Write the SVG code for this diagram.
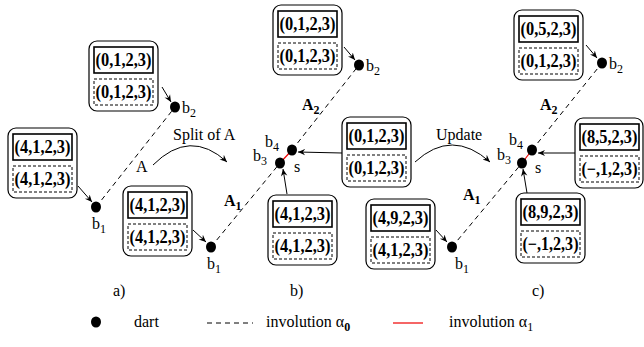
<svg xmlns="http://www.w3.org/2000/svg" width="644" height="347" viewBox="0 0 644 347">
<defs>
<style>
.ob{fill:#fff;stroke:#000;stroke-width:1.2}
.sb{fill:none;stroke:#000;stroke-width:1.6}
.db{fill:none;stroke:#000;stroke-width:1;stroke-dasharray:3,2}
.bt{font-family:"Liberation Serif",serif;font-weight:bold;font-size:18px;text-anchor:middle}
.lb{font-family:"Liberation Serif",serif;font-size:16px}
.sub{font-size:12px}
.dl{fill:none;stroke:#000;stroke-width:1;stroke-dasharray:5,4}
.ar{fill:none;stroke:#000;stroke-width:1;marker-end:url(#ah)}
.dot{fill:#000}
</style>
<marker id="ah" viewBox="0 0 10 10" refX="9" refY="5" markerWidth="8" markerHeight="8" orient="auto" markerUnits="userSpaceOnUse">
<path d="M0,1 L9,5 L0,9 L3,5 Z" fill="#000"/>
</marker>
</defs>

<g id="connectors">
<line class="dl" x1="96" y1="207" x2="175" y2="107"/>
<line class="dl" x1="211" y1="247" x2="280" y2="163"/>
<line class="dl" x1="292" y1="150" x2="359" y2="65"/>
<line class="dl" x1="452" y1="247" x2="522" y2="163"/>
<line class="dl" x1="532" y1="150" x2="602" y2="63"/>
<line x1="280" y1="163" x2="292" y2="150" stroke="#e00" stroke-width="1.2"/>
<line x1="522" y1="163" x2="532" y2="150" stroke="#e00" stroke-width="1.2"/>
<path class="ar" d="M162,87 L171,102"/>
<path class="ar" d="M78,186 L92,202"/>
<path class="ar" d="M193,230 L206,242"/>
<path class="ar" d="M344,47 L355,60"/>
<path class="ar" d="M342,153 L298,152"/>
<path class="ar" d="M287,194 L283,169"/>
<path class="ar" d="M586,45 L597,58"/>
<path class="ar" d="M575,153 L538,153"/>
<path class="ar" d="M527,193 L523,169"/>
<path class="ar" d="M436,230 L447,242"/>
<path class="ar" d="M153,165 Q190,128 227,162"/>
<path class="ar" d="M415,162 Q452,128 490,162"/>
</g>

<g id="box-a-top">
<rect class="ob" x="89" y="41" width="69" height="70" rx="8"/>
<rect class="sb" x="94" y="47" width="59" height="26"/>
<rect class="db" x="94" y="79" width="59" height="26"/>
<text class="bt" x="123.5" y="66" textLength="56" lengthAdjust="spacingAndGlyphs">(0,1,2,3)</text>
<text class="bt" x="123.5" y="98" textLength="56" lengthAdjust="spacingAndGlyphs">(0,1,2,3)</text>
</g>
<g id="box-a-left">
<rect class="ob" x="8" y="128" width="69" height="70" rx="8"/>
<rect class="sb" x="13" y="134" width="59" height="26"/>
<rect class="db" x="13" y="166" width="59" height="26"/>
<text class="bt" x="42.5" y="153" textLength="56" lengthAdjust="spacingAndGlyphs">(4,1,2,3)</text>
<text class="bt" x="42.5" y="185" textLength="56" lengthAdjust="spacingAndGlyphs">(4,1,2,3)</text>
</g>
<g id="box-b-left">
<rect class="ob" x="123" y="186" width="69" height="70" rx="8"/>
<rect class="sb" x="128" y="192" width="59" height="26"/>
<rect class="db" x="128" y="224" width="59" height="26"/>
<text class="bt" x="157.5" y="211" textLength="56" lengthAdjust="spacingAndGlyphs">(4,1,2,3)</text>
<text class="bt" x="157.5" y="243" textLength="56" lengthAdjust="spacingAndGlyphs">(4,1,2,3)</text>
</g>
<g id="box-b-top">
<rect class="ob" x="273" y="5" width="69" height="70" rx="8"/>
<rect class="sb" x="278" y="11" width="59" height="26"/>
<rect class="db" x="278" y="43" width="59" height="26"/>
<text class="bt" x="307.5" y="30" textLength="56" lengthAdjust="spacingAndGlyphs">(0,1,2,3)</text>
<text class="bt" x="307.5" y="62" textLength="56" lengthAdjust="spacingAndGlyphs">(0,1,2,3)</text>
</g>
<g id="box-b-right">
<rect class="ob" x="342" y="117" width="69" height="70" rx="8"/>
<rect class="sb" x="347" y="123" width="59" height="26"/>
<rect class="db" x="347" y="155" width="59" height="26"/>
<text class="bt" x="376.5" y="142" textLength="56" lengthAdjust="spacingAndGlyphs">(0,1,2,3)</text>
<text class="bt" x="376.5" y="174" textLength="56" lengthAdjust="spacingAndGlyphs">(0,1,2,3)</text>
</g>
<g id="box-b-bottom">
<rect class="ob" x="268" y="195" width="69" height="70" rx="8"/>
<rect class="sb" x="273" y="201" width="59" height="26"/>
<rect class="db" x="273" y="233" width="59" height="26"/>
<text class="bt" x="302.5" y="220" textLength="56" lengthAdjust="spacingAndGlyphs">(4,1,2,3)</text>
<text class="bt" x="302.5" y="252" textLength="56" lengthAdjust="spacingAndGlyphs">(4,1,2,3)</text>
</g>
<g id="box-c-left">
<rect class="ob" x="366" y="199" width="69" height="70" rx="8"/>
<rect class="sb" x="371" y="205" width="59" height="26"/>
<rect class="db" x="371" y="237" width="59" height="26"/>
<text class="bt" x="400.5" y="224" textLength="56" lengthAdjust="spacingAndGlyphs">(4,9,2,3)</text>
<text class="bt" x="400.5" y="256" textLength="56" lengthAdjust="spacingAndGlyphs">(4,1,2,3)</text>
</g>
<g id="box-c-top">
<rect class="ob" x="514" y="10" width="69" height="70" rx="8"/>
<rect class="sb" x="519" y="16" width="59" height="26"/>
<rect class="db" x="519" y="48" width="59" height="26"/>
<text class="bt" x="548.5" y="35" textLength="56" lengthAdjust="spacingAndGlyphs">(0,5,2,3)</text>
<text class="bt" x="548.5" y="67" textLength="56" lengthAdjust="spacingAndGlyphs">(0,1,2,3)</text>
</g>
<g id="box-c-right">
<rect class="ob" x="575" y="118" width="68" height="70" rx="8"/>
<rect class="sb" x="580" y="124" width="59" height="26"/>
<rect class="db" x="580" y="156" width="59" height="26"/>
<text class="bt" x="609.5" y="143" textLength="56" lengthAdjust="spacingAndGlyphs">(8,5,2,3)</text>
<text class="bt" x="609.5" y="175" textLength="56" lengthAdjust="spacingAndGlyphs">(−,1,2,3)</text>
</g>
<g id="box-c-bottom">
<rect class="ob" x="516" y="193" width="69" height="70" rx="8"/>
<rect class="sb" x="521" y="199" width="59" height="26"/>
<rect class="db" x="521" y="231" width="59" height="26"/>
<text class="bt" x="550.5" y="218" textLength="56" lengthAdjust="spacingAndGlyphs">(8,9,2,3)</text>
<text class="bt" x="550.5" y="250" textLength="56" lengthAdjust="spacingAndGlyphs">(−,1,2,3)</text>
</g>

<g id="darts">
<ellipse class="dot" cx="175" cy="107" rx="5" ry="5.5"/>
<ellipse class="dot" cx="96" cy="207" rx="5" ry="5.5"/>
<ellipse class="dot" cx="211" cy="247" rx="5" ry="5.5"/>
<ellipse class="dot" cx="280" cy="163" rx="5" ry="5.5"/>
<ellipse class="dot" cx="292" cy="150" rx="5" ry="5.5"/>
<ellipse class="dot" cx="359" cy="65" rx="5" ry="5.5"/>
<ellipse class="dot" cx="452" cy="247" rx="5" ry="5.5"/>
<ellipse class="dot" cx="522" cy="163" rx="5" ry="5.5"/>
<ellipse class="dot" cx="532" cy="150" rx="5" ry="5.5"/>
<ellipse class="dot" cx="602" cy="63" rx="5" ry="5.5"/>
</g>

<g id="labels">
<text class="lb" x="182" y="113">b<tspan class="sub" dy="4">2</tspan></text>
<text class="lb" x="92" y="229">b<tspan class="sub" dy="4">1</tspan></text>
<text class="lb" x="136" y="172">A</text>
<text class="lb" x="173" y="140">Split of A</text>
<text class="lb" x="207" y="269">b<tspan class="sub" dy="4">1</tspan></text>
<text class="lb" x="224" y="206" font-weight="bold">A<tspan class="sub" dy="4">1</tspan></text>
<text class="lb" x="302" y="110" font-weight="bold">A<tspan class="sub" dy="4">2</tspan></text>
<text class="lb" x="366" y="71">b<tspan class="sub" dy="4">2</tspan></text>
<text class="lb" x="265" y="147">b<tspan class="sub" dy="4">4</tspan></text>
<text class="lb" x="253" y="161">b<tspan class="sub" dy="4">3</tspan></text>
<text class="lb" x="294" y="172">s</text>
<text class="lb" x="436" y="140">Update</text>
<text class="lb" x="455" y="269">b<tspan class="sub" dy="4">1</tspan></text>
<text class="lb" x="463" y="200" font-weight="bold">A<tspan class="sub" dy="4">1</tspan></text>
<text class="lb" x="540" y="110" font-weight="bold">A<tspan class="sub" dy="4">2</tspan></text>
<text class="lb" x="609" y="69">b<tspan class="sub" dy="4">2</tspan></text>
<text class="lb" x="509" y="145">b<tspan class="sub" dy="4">4</tspan></text>
<text class="lb" x="497" y="160">b<tspan class="sub" dy="4">3</tspan></text>
<text class="lb" x="535" y="173">s</text>
<text class="lb" x="113" y="296">a)</text>
<text class="lb" x="290" y="296">b)</text>
<text class="lb" x="532" y="296">c)</text>
</g>

<g id="legend">
<ellipse class="dot" cx="96" cy="322" rx="5" ry="5.5"/>
<text class="lb" x="134" y="327">dart</text>
<line class="dl" x1="207" y1="323" x2="253" y2="323" stroke-dasharray="4,3"/>
<text class="lb" x="266" y="327">involution α<tspan class="sub" dy="4" font-weight="bold">0</tspan></text>
<line x1="393" y1="323" x2="423" y2="323" stroke="#e00" stroke-width="1.2"/>
<text class="lb" x="449" y="327">involution α<tspan class="sub" dy="4">1</tspan></text>
</g>
</svg>
